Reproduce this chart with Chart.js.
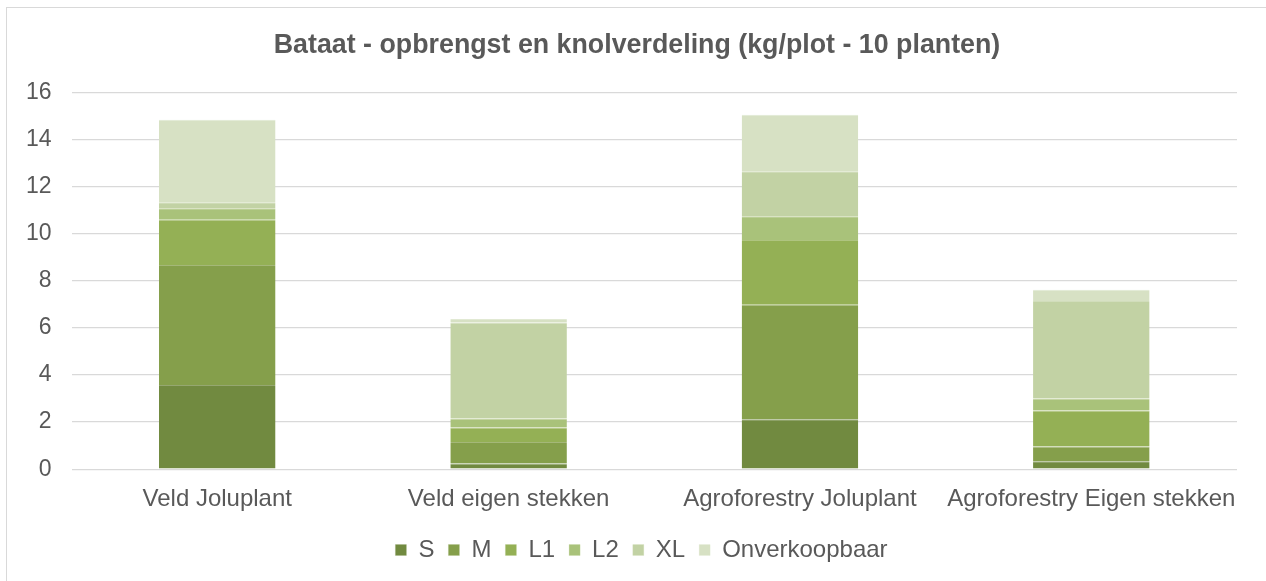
<!DOCTYPE html>
<html>
<head>
<meta charset="utf-8">
<script src="https://cdn.jsdelivr.net/npm/chart.js@4/dist/chart.umd.min.js"></script>
<style>
  html, body { margin: 0; padding: 0; background: #fff; }
  #wrap { position: relative; width: 1266px; height: 581px; overflow: hidden; }
  #frame { position: absolute; left: 6px; top: 7px; width: 1270px; height: 600px; border: 1.5px solid #d9d9d9; box-sizing: border-box; }
  canvas { position: absolute; left: 0; top: 0; }
</style>
</head>
<body>
<div id="wrap">
  <div id="frame"></div>
  <canvas id="c" width="1266" height="581"></canvas>
</div>
<script>
const categories = ["Veld Joluplant", "Veld eigen stekken", "Agroforestry Joluplant", "Agroforestry Eigen stekken"];
const seriesNames = ["S", "M", "L1", "L2", "XL", "Onverkoopbaar"];
const S = [3.57, 0.24, 2.12, 0.34];
const M = [5.10, 0.91, 4.86, 0.62];
const L1 = [1.92, 0.62, 2.75, 1.53];
const L2 = [0.48, 0.38, 1.00, 0.51];
const XL = [0.26, 4.08, 1.91, 4.14];
const Onverkoopbaar = [3.50, 0.14, 2.40, 0.48];
const yTicks = [0, 2, 4, 6, 8, 10, 12, 14, 16];
const colors = ["#718a40", "#859f4b", "#94b055", "#a9c27a", "#c2d2a4", "#d7e1c4"];

function lighten(hex, f) {
  const n = parseInt(hex.slice(1), 16);
  const r = (n >> 16) & 255, g = (n >> 8) & 255, b = n & 255;
  const m = c => Math.round(c + (255 - c) * f);
  return `rgb(${m(r)},${m(g)},${m(b)})`;
}

const seriesData = [S, M, L1, L2, XL, Onverkoopbaar];
const datasets = seriesNames.map((n, i) => ({
  label: n,
  data: seriesData[i],
  backgroundColor: colors[i],
  borderColor: lighten(colors[i], 0.25),
  borderWidth: { top: 1, bottom: 0, left: 0, right: 0 },
  borderSkipped: false,
  barPercentage: 0.4,
  categoryPercentage: 1.0
}));

Chart.defaults.font.family = "'Liberation Sans', Arial, sans-serif";
Chart.defaults.color = "#595959";

const shiftBoxes = {
  id: "shiftBoxes",
  afterLayout(chart) {
    const lg = chart.legend;
    if (lg) {
      lg.left += 20; lg.right += 20;
      lg.top += 2; lg.bottom += 2;
      if (lg.adjustHitBoxes) lg.adjustHitBoxes();
    }
    const t = chart.titleBlock;
    if (t) { t.left += 15.5; t.right += 15.5; }
  }
};

new Chart(document.getElementById("c"), {
  type: "bar",
  data: { labels: categories, datasets },
  plugins: [shiftBoxes],
  options: {
    responsive: false,
    animation: false,
    layout: { padding: { left: 6, right: 29, top: 0, bottom: 11 } },
    plugins: {
      title: {
        display: true,
        text: "Bataat - opbrengst en knolverdeling (kg/plot - 10 planten)",
        font: { size: 26.8, weight: "bold" },
        color: "#595959",
        padding: { top: 30, bottom: 30 }
      },
      legend: {
        position: "bottom",
        labels: {
          boxWidth: 11,
          boxHeight: 11,
          padding: 14,
          font: { size: 24 },
          color: "#595959"
        }
      },
      tooltip: { enabled: false }
    },
    scales: {
      x: {
        stacked: true,
        grid: { display: false },
        border: { display: false },
        ticks: { font: { size: 24 }, color: "#595959", padding: 8, maxRotation: 0, minRotation: 0, autoSkip: false }
      },
      y: {
        stacked: true,
        min: 0,
        max: 16,
        afterBuildTicks: (axis) => { axis.ticks = yTicks.map(v => ({ value: v })); },
        grid: { color: "#d9d9d9", lineWidth: 1.3, drawTicks: false },
        border: { display: false },
        ticks: { font: { size: 23 }, color: "#595959", padding: 20 }
      }
    }
  }
});
</script>
</body>
</html>
